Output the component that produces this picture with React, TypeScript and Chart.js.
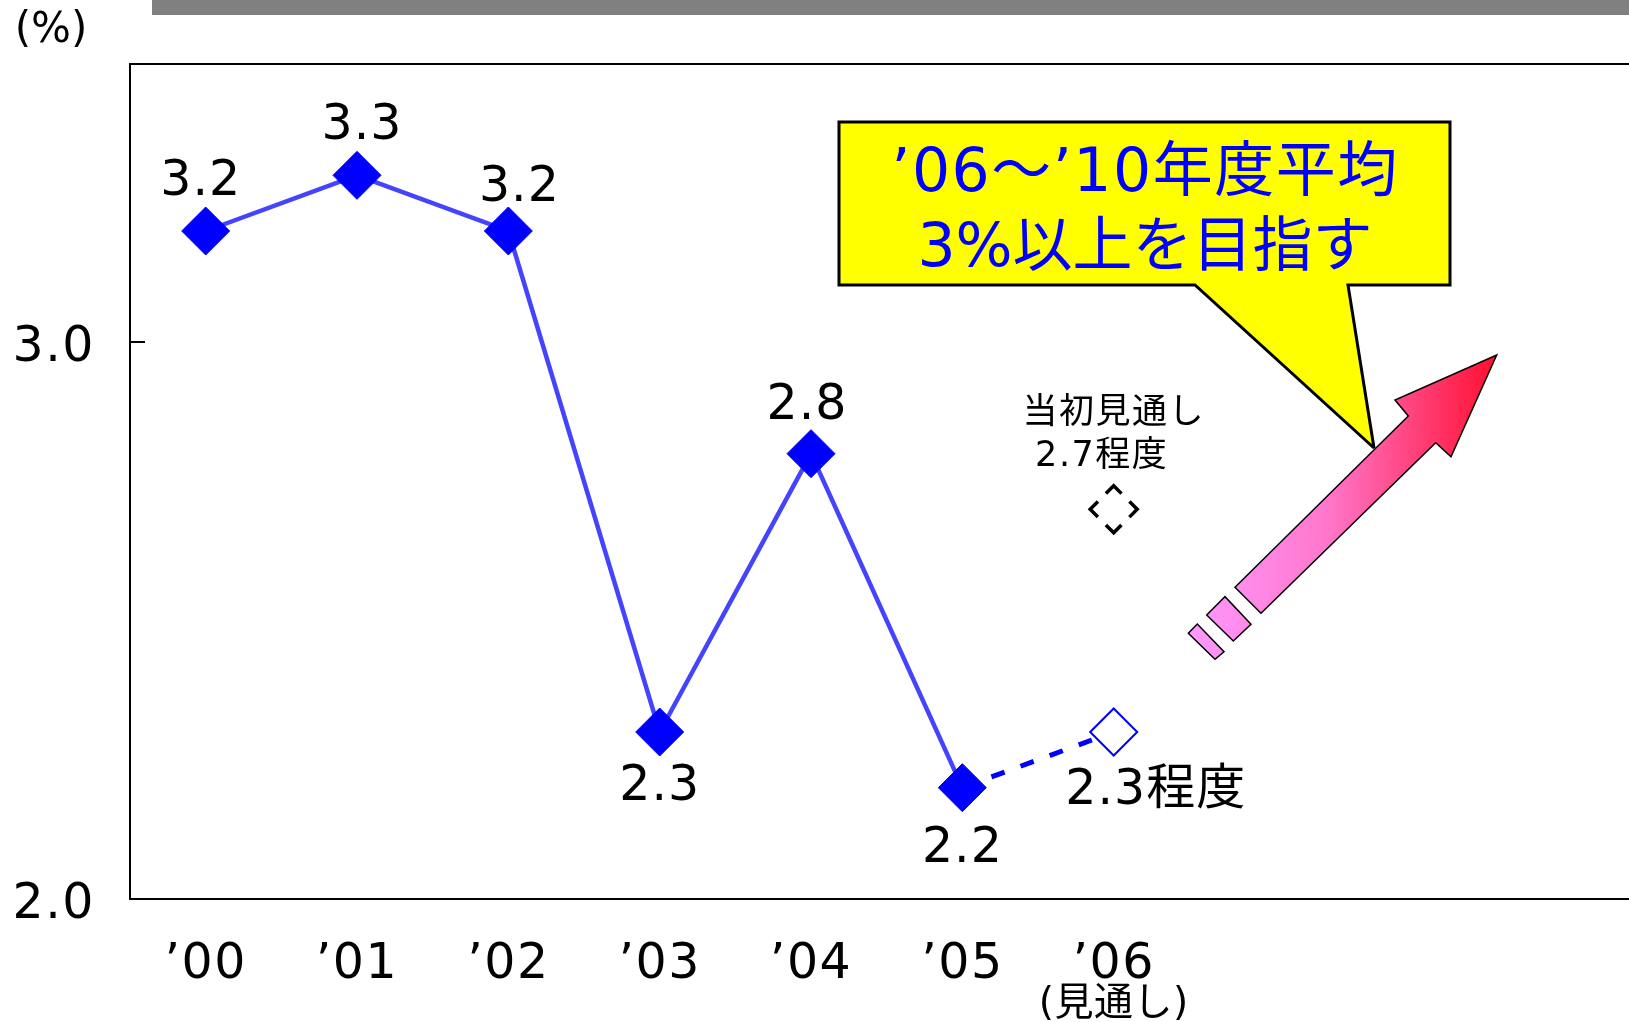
import React, { useEffect, useRef } from "react";
import { Chart, registerables } from "chart.js";

Chart.register(...registerables);

const FONT = '"DejaVu Sans", "Noto Sans CJK JP", sans-serif';

// ---- data ----
const yearLabels = ["’00", "’01", "’02", "’03", "’04", "’05", "’06"];
const forecastSubLabel = "(見通し)";
const actualValues = [3.2, 3.3, 3.2, 2.3, 2.8, 2.2];
const actualLabels = ["3.2", "3.3", "3.2", "2.3", "2.8", "2.2"];
const forecastValue = 2.3;
const forecastLabel = "2.3程度";
const initialForecastValue = 2.7;
const initialForecastLines = ["当初見通し", "2.7程度"];
const yTickValues = [2.0, 3.0];
const unitLabel = "(%)";
const calloutLines = ["’06～’10年度平均", "3%以上を目指す"];

// ---- label placement (pixel offsets from the point) ----
const actualLabelOffsets = [
  [-5, -49],
  [5, -49],
  [11, -43],
  [0, 55],
  [-4, -47],
  [0, 62],
];
const forecastLabelOffset = [42, 59];
const initialLabelOffsets = [
  [0, -95],
  [-12, -52],
];

const X_MIN = -0.5;
const X_MAX = 9.405;

export default function App() {
  const canvasRef = useRef<HTMLCanvasElement | null>(null);

  useEffect(() => {
    const canvas = canvasRef.current;
    if (!canvas) return;

    const decorPlugin = {
      id: "decor",
      beforeDraw(chart: any) {
        const ctx = chart.ctx;
        (ctx as any).letterSpacing = "1.5px";
        ctx.save();
        ctx.fillStyle = "#ffffff";
        ctx.fillRect(0, 0, chart.width, chart.height);
        ctx.fillStyle = "#808080";
        ctx.fillRect(152, 0, chart.width - 152, 15);
        ctx.fillStyle = "#000";
        ctx.font = `42px ${FONT}`;
        (ctx as any).letterSpacing = "0px";
        ctx.textAlign = "center";
        ctx.textBaseline = "middle";
        ctx.fillText(unitLabel, 51, 31);
        ctx.restore();
      },
      beforeDatasetDraw(chart: any, args: any) {
        if (args.index === 2) {
          chart.ctx.save();
          chart.ctx.setLineDash([22, 11.25]);
          chart.ctx.lineDashOffset = 11;
        }
      },
      afterDatasetDraw(chart: any, args: any) {
        if (args.index === 2) {
          chart.ctx.restore();
        }
      },
      afterDatasetsDraw(chart: any) {
        const ctx = chart.ctx;
        const xs = chart.scales.x;
        const ys = chart.scales.y;
        ctx.save();
        // inner tick at 3.0
        ctx.strokeStyle = "#000";
        ctx.lineWidth = 2;
        const ty = Math.round(ys.getPixelForValue(3.0));
        ctx.beginPath();
        ctx.moveTo(chart.chartArea.left, ty);
        ctx.lineTo(chart.chartArea.left + 15, ty);
        ctx.stroke();

        ctx.fillStyle = "#000";
        ctx.textAlign = "center";
        ctx.textBaseline = "middle";
        ctx.font = `49px ${FONT}`;
        (ctx as any).letterSpacing = "1px";
        actualValues.forEach((v, i) => {
          const px = xs.getPixelForValue(i);
          const py = ys.getPixelForValue(v);
          const [dx, dy] = actualLabelOffsets[i];
          ctx.fillText(actualLabels[i], px + dx, py + dy);
        });
        {
          const px = xs.getPixelForValue(6);
          const py = ys.getPixelForValue(forecastValue);
          ctx.fillText(forecastLabel, px + forecastLabelOffset[0], py + forecastLabelOffset[1]);
        }
        {
          const px = xs.getPixelForValue(6);
          const py = ys.getPixelForValue(initialForecastValue);
          ctx.font = `35px ${FONT}`;
          (ctx as any).letterSpacing = "1.5px";
          initialForecastLines.forEach((t, i) => {
            const [dx, dy] = initialLabelOffsets[i];
            ctx.fillText(t, px + dx, py + dy);
          });
        }
        // sub label under '06
        {
          const px = xs.getPixelForValue(6);
          ctx.font = `39px ${FONT}`;
          (ctx as any).letterSpacing = "0.5px";
          ctx.fillText(forecastSubLabel, px, 1005);
        }
        ctx.restore();
      },
      afterDraw(chart: any) {
        const ctx = chart.ctx;
        ctx.save();
        // callout
        ctx.beginPath();
        ctx.moveTo(839, 122);
        ctx.lineTo(1450, 122);
        ctx.lineTo(1450, 285);
        ctx.lineTo(1348, 285);
        ctx.lineTo(1374, 448);
        ctx.lineTo(1195, 285);
        ctx.lineTo(839, 285);
        ctx.closePath();
        ctx.fillStyle = "#ffff00";
        ctx.fill();
        ctx.lineWidth = 3;
        ctx.lineJoin = "miter";
        ctx.miterLimit = 3;
        ctx.strokeStyle = "#000";
        ctx.stroke();
        ctx.fillStyle = "#0000ff";
        ctx.textAlign = "center";
        ctx.textBaseline = "alphabetic";
        ctx.font = `60px ${FONT}`;
        (ctx as any).letterSpacing = "1.5px";
        ctx.fillText(calloutLines[0], 1145, 191);
        (ctx as any).letterSpacing = "0px";
        ctx.fillText(calloutLines[1], 1145, 266);

        // arrow
        const grad = ctx.createLinearGradient(1188, 0, 1497, 0);
        grad.addColorStop(0, "#ff99ff");
        grad.addColorStop(0.45, "#ff77cc");
        grad.addColorStop(1, "#ff0f2f");
        ctx.fillStyle = grad;
        ctx.strokeStyle = "#000";
        ctx.lineWidth = 1.5;
        ctx.lineJoin = "miter";
        const shapes = [
          [
            [1235, 587.3],
            [1408.3, 416],
            [1395, 400],
            [1496.7, 355],
            [1451, 456.7],
            [1435.7, 442.7],
            [1261, 613.3],
          ],
          [
            [1206.7, 615],
            [1225, 596.7],
            [1251, 624.3],
            [1233.3, 641],
          ],
          [
            [1188.3, 633.3],
            [1197.3, 624],
            [1224, 651.7],
            [1215, 659.3],
          ],
        ];
        shapes.forEach((pts) => {
          ctx.beginPath();
          pts.forEach(([x, y], i) => (i === 0 ? ctx.moveTo(x, y) : ctx.lineTo(x, y)));
          ctx.closePath();
          ctx.fill();
          ctx.stroke();
        });
        ctx.restore();
      },
    };

    const chart = new Chart(canvas, {
      type: "line",
      data: {
        datasets: [
          {
            label: "actual",
            data: actualValues.map((y, i) => ({ x: i, y })),
            borderColor: "#4444ff",
            borderWidth: 4.5,
            pointStyle: "rectRot",
            pointRadius: 24,
            pointBackgroundColor: "#0000ff",
            pointBorderColor: "#0000ff",
            pointBorderWidth: 1,
            tension: 0,
            order: 0,
            clip: false,
          } as any,
          {
            label: "forecast",
            data: [
              { x: 5, y: actualValues[5] },
              { x: 6, y: forecastValue },
            ],
            borderColor: "#0000ff",
            borderWidth: 5,
            borderDash: [14, 17],
            pointStyle: "rectRot",
            pointRadius: [0, 23.5],
            pointBackgroundColor: "#ffffff",
            pointBorderColor: "#0000ff",
            pointBorderWidth: [0, 2],
            order: 1,
            clip: false,
          } as any,
          {
            label: "initial",
            data: [{ x: 6, y: initialForecastValue }],
            showLine: false,
            pointStyle: "rectRot",
            pointRadius: 23.5,
            pointBackgroundColor: "rgba(0,0,0,0)",
            pointBorderColor: "#000000",
            pointBorderWidth: 3.5,
            order: 2,
            clip: false,
          } as any,
        ],
      },
      options: {
        animation: false,
        responsive: false,
        devicePixelRatio: 1,
        events: [],
        layout: { padding: 0, autoPadding: false },
        plugins: {
          legend: { display: false },
          tooltip: { enabled: false },
        },
        scales: {
          x: {
            type: "linear",
            position: "bottom",
            min: X_MIN,
            max: X_MAX,
            grid: { display: false, drawTicks: false },
            border: { display: true, color: "#000", width: 2 },
            afterBuildTicks: (scale: any) => {
              scale.ticks = yearLabels.map((_, i) => ({ value: i }));
            },
            afterFit: (scale: any) => {
              scale.height = 123;
              scale.paddingLeft = 0;
              scale.paddingRight = 0;
            },
            ticks: {
              autoSkip: false,
              maxRotation: 0,
              minRotation: 0,
              padding: 37,
              color: "#000",
              font: { family: FONT, size: 49 },
              callback: (v: any) => yearLabels[Math.round(Number(v))] ?? "",
            },
          },
          xTop: {
            type: "linear",
            position: "top",
            min: X_MIN,
            max: X_MAX,
            grid: { display: false, drawTicks: false },
            border: { display: true, color: "#000", width: 2 },
            ticks: { display: false },
            afterFit: (scale: any) => {
              scale.height = 64;
              scale.paddingLeft = 0;
              scale.paddingRight = 0;
            },
          },
          y: {
            type: "linear",
            position: "left",
            min: 2.0,
            max: 3.5,
            grid: { display: false, drawTicks: false },
            border: { display: true, color: "#000", width: 2 },
            afterBuildTicks: (scale: any) => {
              scale.ticks = yTickValues.map((v) => ({ value: v }));
            },
            afterFit: (scale: any) => {
              scale.width = 130;
              scale.paddingTop = 0;
              scale.paddingBottom = 0;
            },
            ticks: {
              padding: 35,
              color: "#000",
              font: { family: FONT, size: 49, lineHeight: "12px" },
              callback: (v: any) => ["", Number(v).toFixed(1)],
            },
          },
        } as any,
      },
      plugins: [decorPlugin],
    } as any);

    return () => {
      chart.destroy();
    };
  }, []);

  return (
    <div style={{ position: "absolute", left: 0, top: 0, width: 1629, height: 1022, overflow: "hidden", background: "#fff" }}>
      <canvas ref={canvasRef} width={1629} height={1022} style={{ display: "block" }} />
    </div>
  );
}
